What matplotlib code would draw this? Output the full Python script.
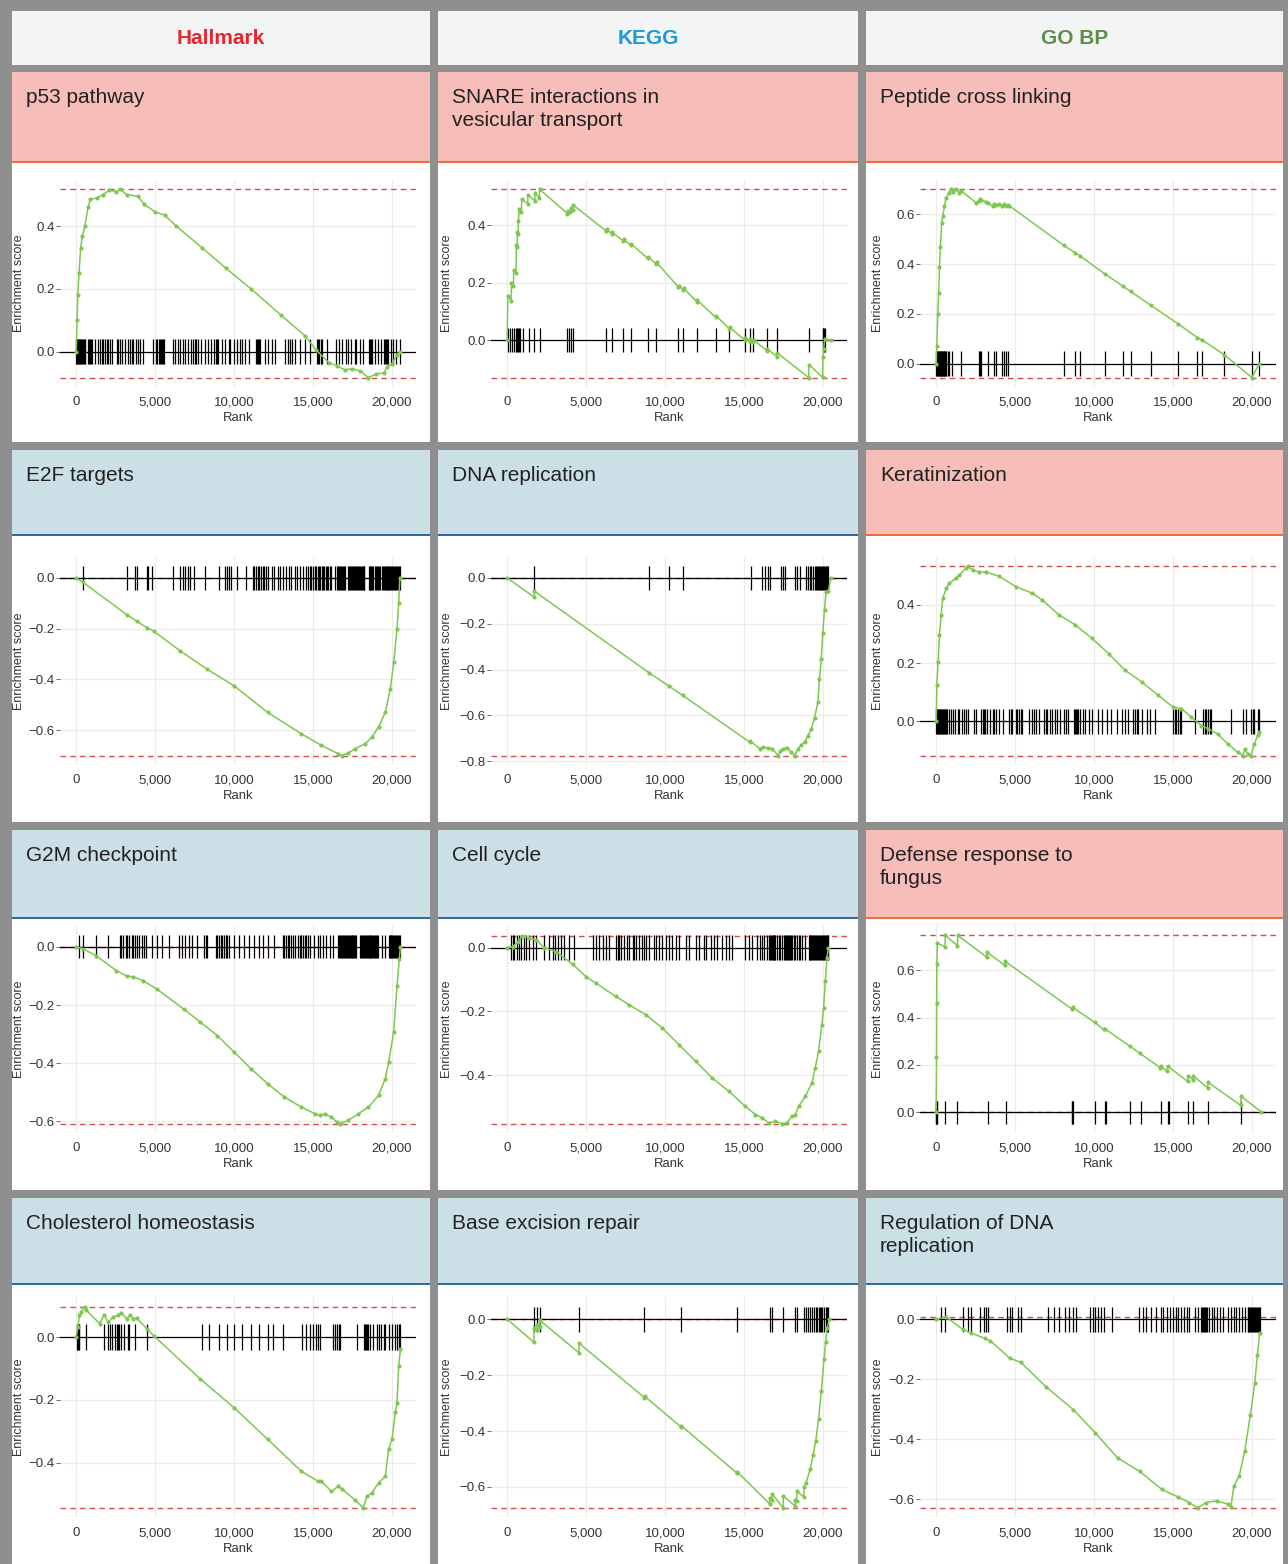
import matplotlib
matplotlib.use("Agg")
import matplotlib.pyplot as plt
from matplotlib.patches import Rectangle
from matplotlib.ticker import MultipleLocator, FuncFormatter

# ---- data: running enrichment score (knots) + hit ranks ----
collections = ["Hallmark", "KEGG", "GO BP"]

p53_rank = [0, 60, 100, 180, 280, 400, 550, 750, 900, 1300, 1700, 2100, 2500, 2800, 3200, 3900, 4300, 5000, 5600,
            6340, 8000, 9500, 11070, 13000, 14500, 15200, 16000, 16500, 17000, 17500, 18000, 18500, 19000, 19500,
            19700, 20000, 20300, 20500]
p53_es = [0, 0.10, 0.18, 0.25, 0.33, 0.37, 0.40, 0.46, 0.485, 0.49, 0.50, 0.515, 0.51, 0.517, 0.50, 0.495, 0.47,
          0.445, 0.435, 0.40, 0.33, 0.265, 0.20, 0.115, 0.05, 0.005, -0.035, -0.045, -0.058, -0.055, -0.062, -0.083,
          -0.072, -0.068, -0.048, -0.04, -0.01, 0.0]
p53_hits = [0, 40, 80, 120, 160, 200, 240, 280, 330, 380, 430, 480, 530, 570, 780, 840, 900, 950, 990, 1200, 1410,
            1510, 1620, 1720, 1800, 1930, 2030, 2150, 2250, 2560, 2660, 2780, 2880, 3080, 3300, 3410, 3520, 3620,
            3810, 3910, 4020, 4230, 4860, 5080, 5150, 5220, 5290, 5360, 5430, 5500, 5570, 6130, 6240, 6450, 6550,
            6760, 6870, 7070, 7280, 7400, 7500, 7610, 7700, 7900, 8130, 8340, 8550, 8760, 8830, 8900, 8970, 9240,
            9450, 9660, 9760, 9970, 10180, 10390, 10500, 10710, 10920, 11380, 11450, 11520, 11590, 11660, 11970,
            12180, 12390, 12600, 13230, 13440, 13540, 13650, 13860, 14170, 14490, 14800, 15270, 15340, 15410, 15480,
            15550, 15900, 16430, 16640, 16850, 17110, 17210, 17420, 17640, 17750, 17950, 18170, 18520, 18590, 18660,
            18730, 18900, 19110, 19320, 19470, 19540, 19610, 19680, 19750, 19950, 20060, 20270, 20480]

snare_rank = [0, 40, 260, 270, 400, 410, 560, 580, 640, 650, 700, 710, 760, 900, 920, 1300, 1320, 1750, 1760, 2040,
              2060, 3820, 3840, 4000, 4020, 4150, 4170, 6280, 6300, 6630, 6650, 7350, 7370, 7820, 7840, 8890, 8910,
              9440, 9460, 10840, 10860, 11150, 11170, 12030, 12050, 13200, 13220, 14080, 14100, 15050, 15070, 15360,
              15380, 15600, 15620, 16460, 16480, 17100, 17120, 19100, 19120, 19980, 20000, 20060, 20100, 20500]
snare_es = [0, 0.154, 0.136, 0.20, 0.19, 0.245, 0.235, 0.33, 0.325, 0.375, 0.37, 0.415, 0.455, 0.445, 0.49, 0.475,
            0.505, 0.485, 0.51, 0.495, 0.524, 0.44, 0.45, 0.445, 0.458, 0.452, 0.47, 0.379, 0.385, 0.37, 0.375,
            0.345, 0.35, 0.33, 0.335, 0.285, 0.29, 0.265, 0.27, 0.185, 0.19, 0.175, 0.18, 0.133, 0.138, 0.08, 0.085,
            0.04, 0.045, 0.0, 0.008, -0.005, 0.003, -0.008, 0.0, -0.037, -0.03, -0.058, -0.045, -0.13, -0.085,
            -0.129, -0.06, -0.03, 0.003, 0.0]
snare_hits = [60, 205, 330, 430, 575, 640, 680, 740, 820, 985, 1355, 1700, 2050, 3820, 3920, 4020, 4170, 6280, 6630,
              7350, 7820, 8890, 9440, 10840, 11150, 12030, 13200, 14080, 15050, 15360, 15600, 16460, 17100, 19100,
              19980, 20020, 20060, 20100]

pep_rank = [0, 40, 100, 160, 210, 270, 350, 420, 525, 630, 800, 945, 1050, 1260, 1470, 1575, 2520, 2690, 2770, 2855,
            3150, 3295, 3570, 3675, 3780, 3990, 4200, 4300, 4410, 4555, 4620, 8080, 8815, 9130, 10700, 11850, 12320,
            13580, 15320, 16540, 16860, 18260, 20000, 20460]
pep_es = [0, 0.071, 0.198, 0.285, 0.39, 0.47, 0.566, 0.593, 0.633, 0.667, 0.687, 0.70, 0.69, 0.70, 0.685, 0.695,
          0.647, 0.655, 0.66, 0.658, 0.65, 0.645, 0.633, 0.64, 0.638, 0.64, 0.632, 0.64, 0.635, 0.638, 0.635, 0.475,
          0.445, 0.432, 0.36, 0.31, 0.29, 0.235, 0.16, 0.105, 0.095, 0.035, -0.056, 0.0]
pep_hits = [0, 40, 80, 120, 160, 200, 240, 280, 320, 360, 400, 440, 480, 520, 560, 600, 630, 735, 840, 1010, 1575,
            2690, 2770, 2855, 3295, 3675, 3780, 4200, 4300, 4410, 4555, 8080, 8815, 9130, 10700, 11850, 12320, 13580,
            15320, 16540, 16860, 18260, 20000, 20460]

e2f_rank = [0, 430, 3190, 3830, 4470, 4900, 6600, 8300, 10000, 12130, 14260, 15530, 16600, 16810, 17240, 17660,
            18300, 18730, 19150, 19580, 19900, 20110, 20320, 20430, 20500]
e2f_es = [0, -0.017, -0.144, -0.17, -0.196, -0.209, -0.288, -0.36, -0.425, -0.53, -0.614, -0.66, -0.693, -0.70,
          -0.69, -0.673, -0.654, -0.627, -0.588, -0.529, -0.438, -0.333, -0.203, -0.098, 0.0]
e2f_hits = [425, 3190, 3720, 3830, 4470, 4580, 4790, 6130, 6600, 6750, 6920, 7090, 7240, 7450, 8190, 9040, 9400,
            9530, 9680, 9790, 10170, 10740, 11170, 11280, 11380, 11490, 11600, 11700, 11810, 11920, 12020, 12130,
            12380, 12550, 12770, 12940, 13090, 13300, 13450, 13620, 13830, 14000, 14150, 14360, 14580, 14700, 14800,
            14900, 15000, 15100, 15200, 15300, 15380, 15460, 15550, 15640, 15720, 15800, 15880, 15960, 16050, 16150,
            16400, 16500, 16600, 16660, 16720, 16790, 16850, 16910, 16970, 17030, 17240, 17300, 17360, 17420, 17480,
            17540, 17600, 17660, 17720, 17780, 17840, 17900, 17960, 18020, 18080, 18140, 18200, 18260, 18520, 18580,
            18640, 18700, 18760, 18830, 18940, 19000, 19060, 19120, 19180, 19260, 19360, 19420, 19480, 19540, 19600,
            19660, 19720, 19780, 19840, 19900, 19960, 20020, 20080, 20140, 20200, 20260, 20320, 20380, 20440, 20500]

dna_rank = [0, 1720, 1730, 8970, 10230, 11110, 15370, 15380, 16000, 16200, 16500, 16800, 17160, 17300, 17470, 17700,
            18000, 18200, 18420, 18620, 18840, 19050, 19260, 19470, 19680, 19780, 19890, 19990, 20100, 20200, 20350,
            20500]
dna_es = [0, -0.084, -0.058, -0.413, -0.471, -0.512, -0.717, -0.71, -0.745, -0.738, -0.742, -0.745, -0.775, -0.755,
          -0.745, -0.74, -0.76, -0.775, -0.745, -0.728, -0.717, -0.688, -0.659, -0.609, -0.543, -0.442, -0.355,
          -0.239, -0.138, -0.06, -0.055, 0.0]
dna_hits = [1720, 8970, 10230, 11110, 15430, 16170, 16320, 16490, 16630, 17330, 17470, 17620, 18200, 18380, 18530,
            18950, 19050, 19160, 19260, 19370, 19470, 19580, 19640, 19700, 19760, 19820, 19880, 19940, 20000, 20060,
            20120, 20180, 20240, 20300]

kera_rank = [0, 40, 125, 210, 315, 420, 630, 840, 1260, 1470, 1890, 2000, 2310, 2730, 3150, 3990, 5040, 6090, 6720,
             7770, 8820, 9870, 10920, 11960, 13010, 14060, 15010, 15530, 16160, 16790, 17210, 17840, 18470, 19100,
             19420, 19560, 19730, 19940, 20150, 20360, 20465]
kera_es = [0, 0.124, 0.205, 0.297, 0.366, 0.423, 0.457, 0.475, 0.492, 0.503, 0.526, 0.532, 0.52, 0.513, 0.513,
           0.498, 0.463, 0.44, 0.417, 0.366, 0.331, 0.285, 0.233, 0.176, 0.136, 0.09, 0.049, 0.044, 0.015, -0.014,
           -0.025, -0.043, -0.077, -0.106, -0.117, -0.094, -0.111, -0.117, -0.077, -0.048, -0.037]
kera_hits = [0, 45, 90, 135, 180, 225, 270, 315, 360, 405, 450, 495, 540, 585, 630, 675, 840, 945, 1090, 1220, 1365,
             1470, 1640, 1785, 1890, 1995, 2415, 2520, 2835, 2940, 3045, 3105, 3190, 3420, 3570, 3675, 3780, 3990,
             4240, 4620, 4720, 4830, 5040, 5140, 5250, 5350, 5460, 5880, 6090, 6190, 6300, 6510, 6820, 6930, 7030,
             7180, 7350, 7510, 7660, 7870, 8080, 8230, 8350, 8710, 8770, 8830, 8900, 8960, 9130, 9270, 9440, 9650,
             9860, 10280, 10490, 10810, 11050, 11440, 11750, 11960, 12170, 12490, 12590, 12700, 12800, 13010, 13330,
             13540, 13850, 15010, 15110, 15220, 15320, 15430, 15530, 16370, 16900, 17000, 17110, 17210, 17320, 17420,
             18680, 19420, 19630, 19940, 20050, 20150, 20360, 20470]

g2m_rank = [0, 425, 1280, 2550, 3190, 3620, 4260, 5110, 6810, 7870, 8940, 10000, 11070, 12130, 13190, 14260, 15110,
            15430, 15750, 16170, 16490, 16700, 17240, 17880, 18510, 19150, 19580, 19790, 20110, 20320, 20470, 20535]
g2m_es = [0, -0.006, -0.031, -0.082, -0.10, -0.103, -0.117, -0.145, -0.214, -0.259, -0.305, -0.362, -0.419, -0.471,
          -0.517, -0.551, -0.574, -0.579, -0.576, -0.585, -0.602, -0.608, -0.597, -0.574, -0.551, -0.511, -0.454,
          -0.397, -0.294, -0.134, -0.042, 0.0]
g2m_hits = [210, 425, 1280, 2020, 2770, 2870, 2980, 3150, 3235, 3360, 3510, 3620, 3720, 3830, 4000, 4150, 4300, 4430,
            4790, 5110, 5430, 5850, 6490, 6700, 6920, 7130, 7340, 7660, 8090, 8200, 8300, 8830, 8940, 9040, 9150,
            9260, 9360, 9470, 9580, 9680, 10000, 10320, 10640, 10960, 11280, 11600, 11810, 12130, 12510, 13090,
            13190, 13300, 13400, 13510, 13620, 13720, 13830, 14040, 14150, 14260, 14360, 14470, 14580, 14680, 14790,
            15090, 15300, 15430, 15640, 15850, 16070, 16280, 16600, 16660, 16720, 16780, 16840, 16900, 16960, 17020,
            17080, 17140, 17200, 17260, 17320, 17380, 17440, 17500, 17560, 17620, 17680, 17740, 17980, 18040, 18100,
            18160, 18220, 18280, 18340, 18400, 18460, 18520, 18580, 18640, 18700, 18760, 18820, 18880, 18940, 19000,
            19060, 19120, 19360, 19580, 19790, 19850, 19910, 19970, 20030, 20090, 20150, 20210, 20270, 20330, 20390,
            20450, 20510]

cc_rank = [0, 360, 675, 990, 1410, 1830, 2360, 3090, 4150, 4990, 5620, 6880, 7730, 8780, 9830, 10880, 11940, 12990,
           14040, 15090, 15720, 16150, 16570, 16990, 17410, 17720, 18040, 18250, 18460, 18880, 19300, 19510, 19720,
           19930, 20040, 20150, 20250, 20350]
cc_es = [0, 0.003, 0.019, 0.0375, 0.029, 0.024, 0.0, -0.0125, -0.052, -0.091, -0.111, -0.153, -0.179, -0.21, -0.252,
         -0.304, -0.356, -0.408, -0.45, -0.497, -0.523, -0.533, -0.549, -0.544, -0.551, -0.549, -0.528, -0.523,
         -0.497, -0.466, -0.424, -0.377, -0.325, -0.242, -0.19, -0.106, -0.033, 0.0]
cc_hits = [250, 360, 460, 610, 740, 880, 1090, 1200, 1410, 1620, 1830, 2360, 2670, 2880, 3050, 3200, 3410, 3620,
           3940, 4250, 5410, 5620, 5830, 6040, 6250, 6460, 6880, 6990, 7090, 7200, 7410, 7620, 7730, 7940, 8040,
           8150, 8360, 8570, 8670, 8780, 8990, 9300, 9410, 9620, 9830, 10040, 10250, 10460, 10670, 10880, 11300,
           11510, 11940, 12150, 12460, 12570, 12890, 13100, 13310, 13620, 13830, 14040, 14250, 15090, 15300, 15510,
           15820, 16040, 16150, 16250, 16460, 16570, 16630, 16690, 16750, 16810, 16870, 16930, 16990, 17100, 17200,
           17310, 17410, 17520, 17620, 17680, 17740, 17800, 17860, 17920, 17980, 18040, 18150, 18250, 18360, 18460,
           18570, 18670, 18880, 19090, 19150, 19210, 19270, 19330, 19390, 19450, 19510, 19570, 19630, 19690, 19750,
           19810, 19870, 19930, 19990, 20050, 20110, 20170, 20230, 20290, 20350]

fung_rank = [0, 20, 30, 40, 80, 570, 580, 1350, 1360, 3200, 3210, 4360, 4370, 8630, 8650, 10040, 10600, 10700,
             12250, 12880, 14200, 14220, 14650, 14670, 15930, 15950, 16250, 16270, 17200, 17220, 19300, 19320, 20600]
fung_es = [0, 0.233, 0.46, 0.628, 0.715, 0.70, 0.748, 0.705, 0.748, 0.656, 0.677, 0.621, 0.638, 0.435, 0.443, 0.38,
           0.35, 0.352, 0.28, 0.25, 0.188, 0.194, 0.172, 0.194, 0.13, 0.154, 0.138, 0.154, 0.102, 0.126, 0.028,
           0.067, 0.0]
fung_hits = [0, 20, 40, 60, 570, 1350, 3260, 4400, 8600, 8630, 8670, 10040, 10670, 10780, 12290, 12950, 14250, 14670,
             14740, 15930, 16250, 17200, 19300]

chol_rank = [0, 100, 210, 320, 530, 640, 1490, 1770, 2020, 2340, 2660, 2870, 3190, 3400, 3620, 3830, 4470, 4900,
             7870, 10000, 12130, 14260, 15320, 15530, 16170, 16600, 16810, 17660, 18190, 18410, 18730, 19150, 19580,
             19790, 20000, 20220, 20320, 20430, 20540]
chol_es = [0, 0.032, 0.07, 0.08, 0.096, 0.086, 0.043, 0.072, 0.048, 0.064, 0.07, 0.078, 0.059, 0.07, 0.059, 0.061,
           0.027, 0.005, -0.134, -0.225, -0.326, -0.428, -0.46, -0.46, -0.492, -0.476, -0.484, -0.519, -0.545,
           -0.508, -0.497, -0.465, -0.444, -0.358, -0.326, -0.24, -0.209, -0.091, -0.037]
chol_hits = [40, 100, 170, 210, 600, 1770, 2020, 2170, 2300, 2450, 2600, 2660, 2720, 2810, 3020, 3260, 3320, 3720,
             4470, 7940, 8400, 9040, 9580, 10000, 10530, 11070, 11600, 12130, 12450, 13090, 14320, 14580, 14790,
             15000, 15210, 15320, 15430, 16280, 16380, 16490, 16640, 16700, 17810, 18240, 18300, 18360, 18410, 18470,
             18620, 18830, 19050, 19150, 19320, 19470, 19580, 19790, 20000, 20220, 20320, 20430, 20540]

ber_rank = [0, 1690, 1700, 1900, 1910, 2070, 2080, 4550, 4560, 8690, 8700, 11000, 11010, 14550, 14560, 16620, 16630,
            16790, 16800, 17480, 17490, 18240, 18250, 18340, 18350, 18790, 18800, 18930, 19200, 19380, 19550, 19720,
            19900, 20070, 20170, 20270, 20410]
ber_es = [0, -0.082, -0.03, -0.04, -0.02, -0.028, -0.004, -0.12, -0.086, -0.28, -0.275, -0.385, -0.38, -0.55,
          -0.545, -0.66, -0.64, -0.648, -0.625, -0.675, -0.632, -0.668, -0.645, -0.65, -0.615, -0.636, -0.60,
          -0.586, -0.535, -0.485, -0.434, -0.358, -0.257, -0.143, -0.08, -0.03, 0.0]
ber_hits = [1690, 1900, 2070, 4550, 8690, 11000, 14550, 16620, 16790, 17480, 18240, 18340, 18790, 18930, 19030, 19200,
            19310, 19450, 19550, 19620, 19720, 19830, 19900, 19960, 20070, 20170, 20240, 20340]

rdr_rank = [0, 630, 1680, 2200, 3080, 3430, 4660, 5360, 6940, 8690, 10090, 11490, 12890, 14290, 15340, 16040, 16570,
            17090, 17800, 18500, 18670, 18850, 19200, 19550, 19900, 20180, 20350, 20490]
rdr_es = [0, 0.008, -0.033, -0.045, -0.063, -0.071, -0.129, -0.143, -0.224, -0.301, -0.379, -0.462, -0.507, -0.567,
          -0.593, -0.611, -0.629, -0.611, -0.605, -0.617, -0.625, -0.557, -0.521, -0.438, -0.319, -0.212, -0.117,
          -0.045]
rdr_hits = [280, 560, 1680, 2030, 2200, 2800, 3010, 3150, 3260, 4480, 4660, 4830, 5180, 5360, 7110, 7460, 7810, 8160,
            8410, 8690, 8860, 9740, 9910, 10090, 10260, 10440, 10610, 11140, 12820, 13070, 13310, 13590, 13940, 14220,
            14360, 14640, 14820, 14990, 15170, 15340, 15520, 15690, 15870, 16040, 16390, 16570, 16750, 16820, 16890,
            16960, 17030, 17100, 17170, 17270, 17440, 17620, 17790, 17970, 18150, 18500, 18670, 18850, 19020, 19200,
            19370, 19550, 19720, 19780, 19840, 19900, 19960, 20020, 20080, 20140, 20200, 20260, 20320, 20380, 20440,
            20500]

# row by row, left to right (Hallmark, KEGG, GO BP)
titles = ["p53 pathway", "SNARE interactions in\nvesicular transport", "Peptide cross linking",
          "E2F targets", "DNA replication", "Keratinization",
          "G2M checkpoint", "Cell cycle", "Defense response to\nfungus",
          "Cholesterol homeostasis", "Base excision repair", "Regulation of DNA\nreplication"]
curves = [(p53_rank, p53_es, p53_hits), (snare_rank, snare_es, snare_hits), (pep_rank, pep_es, pep_hits),
          (e2f_rank, e2f_es, e2f_hits), (dna_rank, dna_es, dna_hits), (kera_rank, kera_es, kera_hits),
          (g2m_rank, g2m_es, g2m_hits), (cc_rank, cc_es, cc_hits), (fung_rank, fung_es, fung_hits),
          (chol_rank, chol_es, chol_hits), (ber_rank, ber_es, ber_hits), (rdr_rank, rdr_es, rdr_hits)]

# ---- layout (pixels) ----
W, H = 1288, 1564
COL_X = [(12, 430), (438, 858), (866, 1283)]
HEAD_Y = (11, 65)
ROW_Y = [(72, 162, 442), (450, 535, 822), (830, 918, 1190), (1198, 1284, 1564)]
PANEL_Y = [(180, 387), (557, 765), (926, 1133), (1297, 1518)]
PANEL_X = [(60, 416), (491, 847), (920, 1276)]
YLAB_X = [25, 453, 884]   # right edge of the rotated y label

GRAY = "#8f8f8f"
HEAD_BG = "#f3f5f5"
UP_BG, UP_LINE = "#f6bdb9", "#e8703a"
DN_BG, DN_LINE = "#cbe0e6", "#2e6b9e"
HEAD_COL = ["#e8242c", "#1e9ad6", "#5e8e4a"]
GREEN = "#7ec850"
RED = "#d0504f"

plt.rcParams["font.family"] = ["Liberation Sans", "DejaVu Sans"]

fig = plt.figure(figsize=(W / 100, H / 100), dpi=100)
fig.patch.set_facecolor(GRAY)

bg = fig.add_axes([0, 0, 1, 1])
bg.set_xlim(0, W)
bg.set_ylim(H, 0)
bg.axis("off")

# header row
for c, (x0, x1) in enumerate(COL_X):
    bg.add_patch(Rectangle((x0, HEAD_Y[0]), x1 - x0, HEAD_Y[1] - HEAD_Y[0], fc=HEAD_BG, ec="none"))
    bg.text((x0 + x1) / 2, (HEAD_Y[0] + HEAD_Y[1]) / 2 + 1, collections[c], color=HEAD_COL[c],
            fontsize=15, fontweight="bold", ha="center", va="center")


def to_fig(x0, y0, x1, y1):
    return [x0 / W, 1 - y1 / H, (x1 - x0) / W, (y1 - y0) / H]


def minus_fmt(v, pos):
    s = "%.1f" % v
    return s.replace("-", "\u2212")


for i, (rank, es, hits) in enumerate(curves):
    r, c = divmod(i, 3)
    x0, x1 = COL_X[c]
    top, line_y, bottom = ROW_Y[r]
    up = max(es) > -min(es)

    # title box + coloured rule + white plot cell
    bg.add_patch(Rectangle((x0, top), x1 - x0, line_y - top, fc=UP_BG if up else DN_BG, ec="none"))
    bg.add_patch(Rectangle((x0, line_y - 1), x1 - x0, 2.2, fc=UP_LINE if up else DN_LINE, ec="none"))
    bg.add_patch(Rectangle((x0, line_y + 1.2), x1 - x0, bottom - line_y - 1.2, fc="white", ec="none"))
    bg.text(x0 + 14, top + 16, titles[i], fontsize=15, color="#222222", ha="left", va="top", linespacing=1.28)

    # enrichment plot
    px0, px1 = PANEL_X[c]
    py0, py1 = PANEL_Y[r]
    ax = fig.add_axes(to_fig(px0, py0, px1, py1))
    ax.set_facecolor("white")

    es_max, es_min = max(es), min(es)
    h = 0.065 * (es_max - es_min)
    lo, hi = min(es_min, -h), max(es_max, h)
    pad = 0.05 * (hi - lo)
    ax.set_ylim(lo - pad, hi + pad)
    ax.set_xlim(-1025, 21525)

    ax.axhline(0, color="black", lw=0.9, zorder=2)
    ax.vlines(hits, -h, h, color="black", lw=0.9, zorder=3)
    ax.axhline(es_max, color=RED, lw=1.0, ls=(0, (4, 3)), zorder=1)
    ax.axhline(es_min, color=RED, lw=1.0, ls=(0, (4, 3)), zorder=1)
    ax.plot(rank, es, color=GREEN, lw=1.1, marker="o", ms=2.0, zorder=4)

    ax.set_xticks([0, 5000, 10000, 15000, 20000])
    ax.set_xticklabels(["0", "5,000", "10,000", "15,000", "20,000"])
    ax.yaxis.set_major_locator(MultipleLocator(0.2))
    ax.yaxis.set_major_formatter(FuncFormatter(minus_fmt))
    ax.tick_params(axis="x", length=0, pad=6.5, labelsize=9.5, labelcolor="#333333")
    ax.tick_params(axis="y", length=3, width=0.6, color="#555555", pad=1, labelsize=9.5, labelcolor="#333333")
    ax.grid(color="#ebebeb", lw=0.8, zorder=0)
    ax.set_axisbelow(True)
    for s in ax.spines.values():
        s.set_visible(False)

    ax.set_xlabel("Rank", fontsize=9.4, color="#333333", labelpad=3)
    ax.set_ylabel("Enrichment score", fontsize=9, color="#333333")
    ax.yaxis.set_label_coords((YLAB_X[c] - px0) / (px1 - px0), 0.5)

fig.savefig("out.png", dpi=100, facecolor=GRAY)
